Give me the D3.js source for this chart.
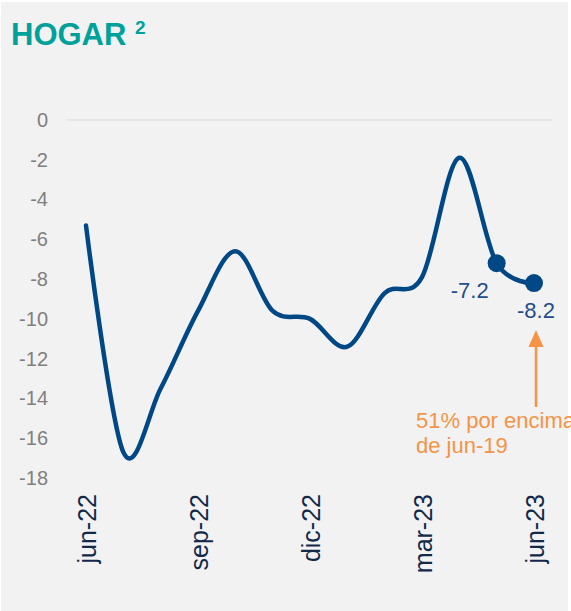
<!DOCTYPE html>
<html>
<head>
<meta charset="utf-8">
<script src="https://cdn.jsdelivr.net/npm/d3@7"></script>
<style>
  body { margin: 0; background: #fff; }
  svg { display: block; font-family: "Liberation Sans", Arial, sans-serif; }
</style>
</head>
<body>
<svg id="chart" width="571" height="611"></svg>
<script>
// monthly values, jun-22 .. jun-23
var months = ['jun-22', 'jul-22', 'ago-22', 'sep-22', 'oct-22', 'nov-22', 'dic-22',
  'ene-23', 'feb-23', 'mar-23', 'abr-23', 'may-23', 'jun-23']
var values = [-5.3, -16.7, -13.5, -9.6, -6.6, -9.6, -10.0, -11.4, -8.7, -7.9, -1.9, -7.2, -8.2]
var tickMonths = ['jun-22', 'sep-22', 'dic-22', 'mar-23', 'jun-23']
var yTicks = [0, -2, -4, -6, -8, -10, -12, -14, -16, -18]
var labelled = ['may-23', 'jun-23']

// plain hyphen instead of unicode minus
var fmt = function (d) { return d3.format('d')(d).replace('\u2212', '-') }
var fmt1 = function (d) { return d3.format('.1f')(d).replace('\u2212', '-') }

var svg = d3.select('#chart')

svg.append('rect')
  .attr('x', 1).attr('y', 2)
  .attr('width', 567).attr('height', 609)
  .attr('fill', '#f2f2f2')

// title
var title = svg.append('text')
  .attr('x', 11).attr('y', 45)
  .attr('fill', '#00a19b')
  .attr('font-weight', 'bold')
  .attr('font-size', 31)
title.append('tspan').text('HOGAR ')
title.append('tspan').attr('font-size', 19).attr('dy', -11).text('2')

var x = d3.scalePoint().domain(months).range([86, 534])
var y = d3.scaleLinear().domain([-18, 0]).range([478, 120])

// zero line
svg.append('line')
  .attr('x1', 67).attr('x2', 552)
  .attr('y1', y(0)).attr('y2', y(0))
  .attr('stroke', '#d9d9d9')
  .attr('stroke-width', 1)

// y axis (labels only)
var yAxis = svg.append('g')
  .attr('transform', 'translate(48,0)')
  .call(d3.axisLeft(y).tickValues(yTicks).tickSize(0).tickPadding(0).tickFormat(fmt))
yAxis.select('.domain').remove()
yAxis.selectAll('text')
  .attr('fill', '#7f7f7f')
  .attr('font-size', 20)
  .attr('font-family', '"Liberation Sans", Arial, sans-serif')

// x axis (rotated labels only)
var xAxis = svg.append('g')
  .attr('transform', 'translate(0,494)')
  .call(d3.axisBottom(x).tickValues(tickMonths).tickSize(0).tickPadding(0))
xAxis.select('.domain').remove()
xAxis.selectAll('text')
  .attr('fill', '#12294a')
  .attr('font-size', 25)
  .attr('font-family', '"Liberation Sans", Arial, sans-serif')
  .attr('text-anchor', 'end')
  .attr('transform', 'rotate(-90)')
  .attr('x', 0)
  .attr('y', 0)
  .attr('dy', '0.36em')

// series line
var line = d3.line()
  .x(function (d, i) { return x(months[i]) })
  .y(function (d) { return y(d) })
  .curve(d3.curveCardinal.tension(0))

svg.append('path')
  .datum(values)
  .attr('d', line)
  .attr('fill', 'none')
  .attr('stroke', '#004785')
  .attr('stroke-width', 4.5)
  .attr('stroke-linecap', 'round')

var pts = months.map(function (m, i) { return { m: m, v: values[i] } })
  .filter(function (d) { return labelled.indexOf(d.m) >= 0 })

svg.selectAll('.dot')
  .data(pts)
  .enter().append('circle')
  .attr('class', 'dot')
  .attr('cx', function (d) { return x(d.m) })
  .attr('cy', function (d) { return y(d.v) })
  .attr('r', 9)
  .attr('fill', '#004785')

// value labels: may below-left, jun below
svg.selectAll('.val')
  .data(pts)
  .enter().append('text')
  .attr('class', 'val')
  .attr('x', function (d, i) { return x(d.m) + (i === 0 ? -27 : 2) })
  .attr('y', function (d) { return y(d.v) + 35 })
  .attr('text-anchor', 'middle')
  .attr('fill', '#1f4e8a')
  .attr('font-size', 22)
  .text(function (d) { return fmt1(d.v) })

// arrow annotation
var ax = x('jun-23') + 2
svg.append('line')
  .attr('x1', ax).attr('x2', ax)
  .attr('y1', 407).attr('y2', 345)
  .attr('stroke', '#f59446')
  .attr('stroke-width', 2.5)
svg.append('path')
  .attr('d', 'M' + (ax - 7.5) + ',347 L' + ax + ',330 L' + (ax + 7.5) + ',347 Z')
  .attr('fill', '#f59446')

var note = svg.append('text')
  .attr('fill', '#f59446')
  .attr('font-size', 22)
note.append('tspan').attr('x', 416).attr('y', 428).text('51% por encima')
note.append('tspan').attr('x', 416).attr('y', 453).text('de jun-19')
</script>
</body>
</html>
